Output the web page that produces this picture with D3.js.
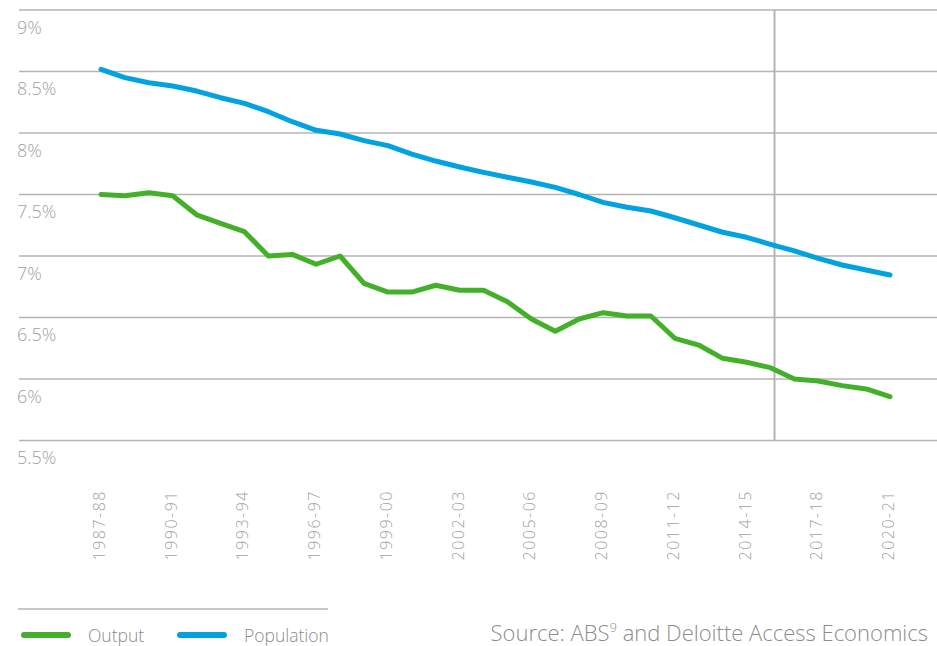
<!DOCTYPE html>
<html>
<head>
<meta charset="utf-8">
<script src="https://cdnjs.cloudflare.com/ajax/libs/d3/7.9.0/d3.min.js"></script>
<style>
  html, body { margin: 0; padding: 0; background: #fff; }
  svg { display: block; font-family: "Open Sans", "Noto Sans", sans-serif; font-weight: 300; }
</style>
</head>
<body>
<div id="chart"></div>
<script>
// Output and population shares, 1987-88 to 2020-21
const years = [
  '1987-88', '1988-89', '1989-90', '1990-91', '1991-92', '1992-93', '1993-94',
  '1994-95', '1995-96', '1996-97', '1997-98', '1998-99', '1999-00', '2000-01',
  '2001-02', '2002-03', '2003-04', '2004-05', '2005-06', '2006-07', '2007-08',
  '2008-09', '2009-10', '2010-11', '2011-12', '2012-13', '2013-14', '2014-15',
  '2015-16', '2016-17', '2017-18', '2018-19', '2019-20', '2020-21'
];

const output = [
  7.50, 7.49, 7.515, 7.49, 7.335, 7.266, 7.198, 7.00, 7.013, 6.933,
  7.00, 6.778, 6.707, 6.707, 6.762, 6.721, 6.721, 6.628, 6.488, 6.388,
  6.488, 6.539, 6.512, 6.512, 6.331, 6.276, 6.168, 6.136, 6.092, 6.00,
  5.984, 5.946, 5.919, 5.856
];

const population = [
  8.518, 8.450, 8.409, 8.382, 8.341, 8.287, 8.241, 8.173, 8.092, 8.022,
  7.992, 7.938, 7.897, 7.829, 7.772, 7.724, 7.680, 7.640, 7.602, 7.558,
  7.500, 7.436, 7.396, 7.366, 7.311, 7.252, 7.193, 7.152, 7.095, 7.041,
  6.981, 6.927, 6.886, 6.846
];

const yTicks = [9, 8.5, 8, 7.5, 7, 6.5, 6, 5.5];
const labelEvery = 3;          // every third year is labelled
const markerAt = 28.17;        // vertical reference line (just after 2015-16)

const series = [
  { name: 'Output', values: output, color: '#43b02a' },
  { name: 'Population', values: population, color: '#00a3e0' }
];

(function () {
  const width = 937, height = 646;
  const gridLeft = 19, gridRight = 937;
  const grey = '#a2a2a2';

  const svg = d3.select('#chart').append('svg')
    .attr('width', width)
    .attr('height', height);

  const x = d3.scaleLinear().domain([0, years.length - 1]).range([101, 890]);
  const y = d3.scaleLinear().domain([5.5, 9]).range([440.5, 10]);

  // Gridlines
  svg.append('g').selectAll('line')
    .data(yTicks)
    .join('line')
    .attr('x1', gridLeft).attr('x2', gridRight)
    .attr('y1', d => y(d)).attr('y2', d => y(d))
    .attr('stroke', '#b4b4b4')
    .attr('stroke-width', 1.5);

  // Y labels sit under their gridline
  svg.append('g').selectAll('text')
    .data(yTicks)
    .join('text')
    .attr('x', 17)
    .attr('y', d => y(d) + 23.5)
    .attr('fill', grey)
    .attr('font-size', 18)
    .text(d => d + '%');

  // Vertical reference line
  svg.append('line')
    .attr('x1', x(markerAt)).attr('x2', x(markerAt))
    .attr('y1', y(9)).attr('y2', y(5.5))
    .attr('stroke', '#b4b4b4')
    .attr('stroke-width', 2);

  // Year labels (rotated)
  svg.append('g').selectAll('text')
    .data(years.map((d, i) => ({ d, i })).filter(o => o.i % labelEvery === 0))
    .join('text')
    .attr('transform', o => `translate(${x(o.i)},490) rotate(-90)`)
    .attr('text-anchor', 'end')
    .attr('dy', '0.25em')
    .attr('fill', grey)
    .attr('font-size', 16)
    .attr('letter-spacing', 1.5)
    .text(o => o.d);

  // Lines
  const line = d3.line()
    .x((d, i) => x(i))
    .y(d => y(d));

  svg.append('g').selectAll('path')
    .data(series)
    .join('path')
    .attr('d', s => line(s.values))
    .attr('fill', 'none')
    .attr('stroke', s => s.color)
    .attr('stroke-width', 5)
    .attr('stroke-linejoin', 'round')
    .attr('stroke-linecap', 'round');

  // Legend
  svg.append('line')
    .attr('x1', 18).attr('x2', 328)
    .attr('y1', 609).attr('y2', 609)
    .attr('stroke', '#b4b4b4')
    .attr('stroke-width', 1.5);

  const legendX = [24, 180];
  const lg = svg.append('g').selectAll('g')
    .data(series)
    .join('g')
    .attr('transform', (s, i) => `translate(${legendX[i]},635)`);

  lg.append('line')
    .attr('x1', 0).attr('x2', 44)
    .attr('stroke', s => s.color)
    .attr('stroke-width', 6)
    .attr('stroke-linecap', 'round');

  lg.append('text')
    .attr('x', 64)
    .attr('y', 6.5)
    .attr('fill', '#8c8c8c')
    .attr('font-size', 17.5)
    .text(s => s.name);

  // Source
  const src = svg.append('text')
    .attr('x', 928)
    .attr('y', 641)
    .attr('text-anchor', 'end')
    .attr('fill', '#8c8c8c')
    .attr('font-size', 22);
  src.append('tspan').text('Source: ABS');
  src.append('tspan').attr('font-size', 13).attr('dy', -9).text('9');
  src.append('tspan').attr('dy', 9).text(' and Deloitte Access Economics');
})();
</script>
</body>
</html>
